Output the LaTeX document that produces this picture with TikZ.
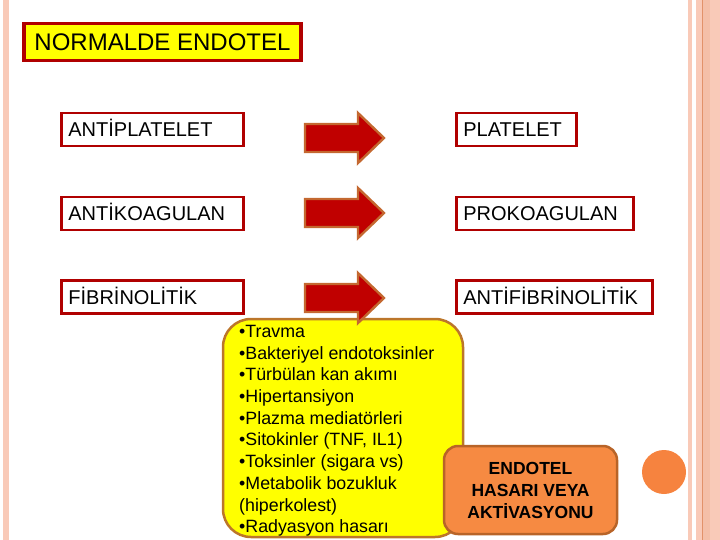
\documentclass[tikz,border=0pt]{standalone}
\usepackage{fontspec}
\setmainfont{Liberation Sans}
\usepackage{tikz}
\usetikzlibrary{calc}

\definecolor{boxred}{RGB}{176,0,0}
\definecolor{arrowred}{RGB}{192,0,0}
\definecolor{arrowedge}{RGB}{196,104,48}
\definecolor{causeyellow}{RGB}{255,255,0}
\definecolor{causeedge}{RGB}{188,118,42}
\definecolor{hasarorange}{RGB}{246,138,66}
\definecolor{hasaredge}{RGB}{184,100,40}
\definecolor{stripe}{RGB}{249,202,184}
\definecolor{stripedark}{RGB}{226,146,106}

\begin{document}
\begin{tikzpicture}[x=1pt, y=-1pt,
  redbox/.style={draw=boxred, line width=2.8pt, fill=white, minimum height=33pt,
    inner xsep=7pt, inner ysep=0pt, align=left, anchor=west,
    text height=16pt, text depth=2pt,
    font=\fontsize{20}{24}\selectfont},
  arrowline/.style={fill=arrowred, draw=arrowedge, line width=2.4pt, line join=miter}]
  \useasboundingbox (0,0) rectangle (720,540);

  % Slide border stripes
  \fill[stripe] (3,0) rectangle (9,540);
  \fill[stripe] (688,0) rectangle (691.5,540);
  \fill[stripe] (696,0) rectangle (720,540);
  \fill[stripe!80!stripedark] (703,0) rectangle (710,540);
  \draw[stripedark, line width=1pt] (702,0) -- (702,540);

  % Title
  \node[draw=boxred, line width=3.5pt, fill=causeyellow, minimum width=277pt,
    minimum height=37pt, inner sep=0pt, font=\fontsize{24}{28}\selectfont]
    (title) at (162.5,42) {NORMALDE ENDOTEL};

  % Normal endothelium (left) and damaged state (right)
  \node[redbox, text width=168pt] (antiplt) at (60,129.5) {ANTİPLATELET};
  \node[redbox, text width=168pt] (antikoag) at (60,213.5) {ANTİKOAGULAN};
  \node[redbox, text width=168pt] (fibrin) at (60,297) {FİBRİNOLİTİK};
  \node[redbox, text width=106pt] (plt) at (455,129.5) {PLATELET};
  \node[redbox, text width=163pt] (prokoag) at (455,213.5) {PROKOAGULAN};
  \node[redbox, text width=182pt] (antifibrin) at (455,297) {ANTİFİBRİNOLİTİK};

  % Causes of damage
  \node[draw=causeedge, fill=causeyellow, line width=2.5pt, rounded corners=28pt,
    minimum width=240pt, minimum height=218pt] (causes) at (343,428) {};
  \node[anchor=north west, inner sep=0pt, align=left,
    font=\fontsize{17.8}{21.7}\selectfont] (causelist) at (239,325)
    {•Travma\\ •Bakteriyel endotoksinler\\ •Türbülan kan akımı\\ •Hipertansiyon\\
     •Plazma mediatörleri\\ •Sitokinler (TNF, IL1)\\ •Toksinler (sigara vs)\\
     •Metabolik bozukluk\\ (hiperkolest)\\ •Radyasyon hasarı};

  % Block arrows
  \foreach \yy in {138,213,298}
    \draw[arrowline] (305,\yy-14) -- (358,\yy-14) -- (358,\yy-25) -- (384,\yy)
      -- (358,\yy+25) -- (358,\yy+14) -- (305,\yy+14) -- cycle;

  % Result
  \node[draw=hasaredge, fill=hasarorange, line width=2.5pt, rounded corners=14pt,
    minimum width=173pt, minimum height=88pt, align=center,
    font=\bfseries\fontsize{17.5}{22}\selectfont]
    (hasar) at (530.5,490) {ENDOTEL\\ HASARI VEYA\\ AKTİVASYONU};

  \fill[hasarorange!95!red] (664,472) circle (22pt);
\end{tikzpicture}
\end{document}
